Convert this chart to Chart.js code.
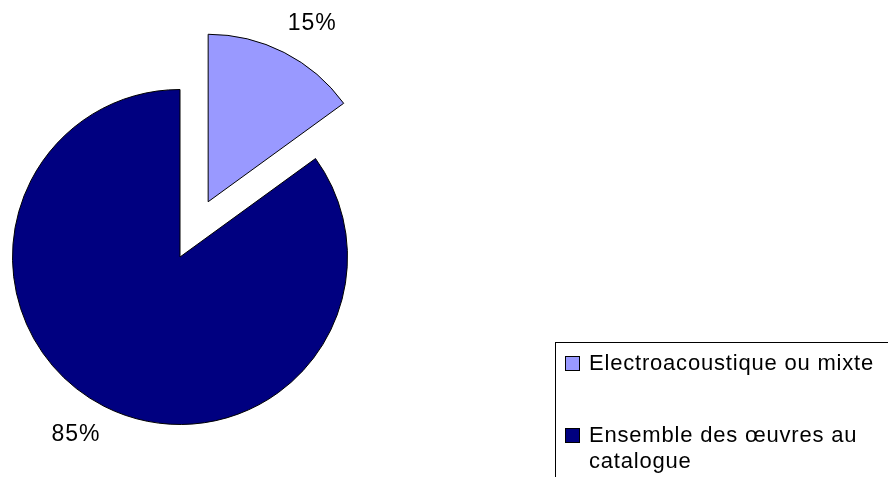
<!DOCTYPE html>
<html>
<head>
<meta charset="utf-8">
<script src="https://cdn.jsdelivr.net/npm/chart.js@4"></script>
<style>
  html, body { margin: 0; padding: 0; background: #fff; overflow: hidden; }
  #wrap { position: relative; width: 888px; height: 477px; }
  #legend {
    position: absolute; left: 555px; top: 342px; width: 400px; height: 200px;
    border: 1px solid #000; box-sizing: border-box; padding: 7px 0 0 9px;
    font-family: 'Liberation Sans', Arial, sans-serif; font-size: 22px; line-height: 26px;
    letter-spacing: 0.8px; color: #000;
  }
  #legend .item { display: flex; align-items: flex-start; margin-bottom: 45.6px; }
  #legend .box { width: 13px; height: 13px; border: 1px solid #000; margin: 6px 9px 0 0; flex: none; }
  #legend .txt { width: 292px; }
</style>
</head>
<body>
<div id="wrap">
  <canvas id="pie" width="888" height="477"></canvas>
  <div id="legend"></div>
</div>
<script>
const labels = ['Electroacoustique ou mixte', 'Ensemble des œuvres au catalogue'];
const values = [15, 85];
const colors = ['#9999FF', '#000080'];
const explode = [62, 0]; // pixels the slice is pulled out

// pie whose slices are shifted out whole (no radius/angle change like chart.js offset)
class ExplodedPie extends Chart.PieController {
  draw() {
    const ctx = this.chart.ctx;
    this._cachedMeta.data.forEach((arc, i) => {
      const mid = (arc.startAngle + arc.endAngle) / 2;
      ctx.save();
      ctx.translate(Math.cos(mid) * explode[i], Math.sin(mid) * explode[i]);
      arc.draw(ctx, this.chart.chartArea);
      ctx.restore();
    });
  }
}
ExplodedPie.id = 'explodedPie';
ExplodedPie.defaults = Chart.PieController.defaults;
ExplodedPie.overrides = Chart.PieController.overrides;
Chart.register(ExplodedPie);

// percent labels outside each slice
const pctLabels = {
  id: 'pctLabels',
  afterDatasetsDraw(chart) {
    const ctx = chart.ctx;
    const meta = chart.getDatasetMeta(0);
    const total = values.reduce((a, b) => a + b, 0);
    ctx.save();
    ctx.font = '23px "Liberation Sans", Arial, sans-serif';
    ctx.letterSpacing = '1px';
    ctx.fillStyle = '#000';
    ctx.textAlign = 'center';
    ctx.textBaseline = 'middle';
    meta.data.forEach((arc, i) => {
      const mid = (arc.startAngle + arc.endAngle) / 2;
      const dx = Math.cos(mid), dy = Math.sin(mid);
      const d = explode[i] + arc.outerRadius + 32;
      const x = arc.x + dx * d + (dx >= 0 ? 13.5 : -13.5);
      const y = arc.y + dy * d;
      ctx.fillText(Math.round(values[i] / total * 100) + '%', x, y);
    });
    ctx.restore();
  }
};

// html legend (boxed, wraps long labels)
const htmlLegend = {
  id: 'htmlLegend',
  afterUpdate(chart) {
    const el = document.getElementById('legend');
    el.innerHTML = '';
    chart.options.plugins.legend.labels.generateLabels(chart).forEach(item => {
      const row = document.createElement('div');
      row.className = 'item';
      const box = document.createElement('span');
      box.className = 'box';
      box.style.background = item.fillStyle;
      const txt = document.createElement('span');
      txt.className = 'txt';
      txt.textContent = item.text;
      row.appendChild(box);
      row.appendChild(txt);
      el.appendChild(row);
    });
  }
};

new Chart(document.getElementById('pie'), {
  type: 'explodedPie',
  data: {
    labels: labels,
    datasets: [{
      data: values,
      backgroundColor: colors,
      borderColor: '#000',
      borderWidth: 1,
      borderJoinStyle: 'miter',
      clip: false
    }]
  },
  options: {
    responsive: false,
    animation: false,
    radius: 167.5,
    layout: { padding: { left: 0, right: 528, top: 37, bottom: 0 } },
    plugins: { legend: { display: false }, tooltip: { enabled: false } }
  },
  plugins: [pctLabels, htmlLegend]
});
</script>
</body>
</html>
